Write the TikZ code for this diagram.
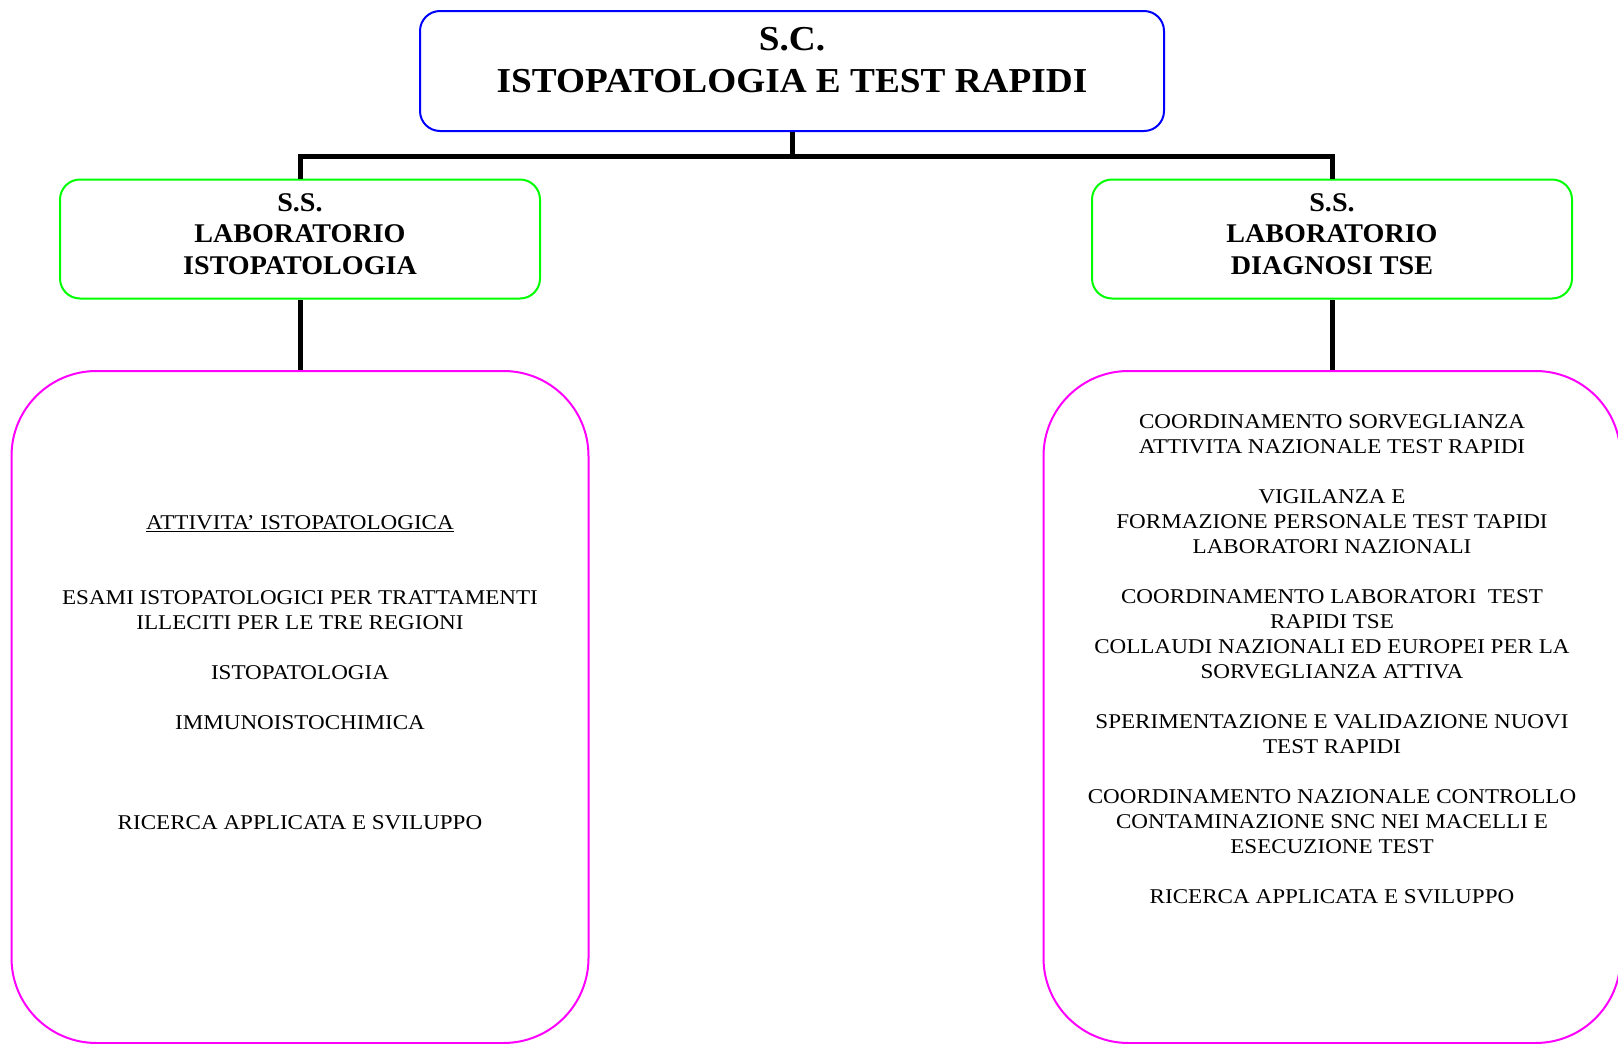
\documentclass[tikz,border=0pt]{standalone}
\usepackage{fontspec}
\setmainfont{Liberation Serif}
\newfontfamily\titlefont[FakeStretch=1.065]{Liberation Serif}
\newfontfamily\ssfont[FakeStretch=1.04]{Liberation Serif}
\newfontfamily\actfont[FakeStretch=1.10]{Liberation Serif}
\usetikzlibrary{calc}
\definecolor{scblue}{RGB}{0,0,255}
\definecolor{ssgreen}{RGB}{0,255,0}
\definecolor{actmagenta}{RGB}{255,0,255}

\begin{document}
\begin{tikzpicture}[x=1pt, y=-1pt, line cap=round, line join=round,
	scbox/.style={draw=scblue, line width=2pt, rounded corners=20pt, inner sep=0pt,
		minimum width=744pt, minimum height=120pt},
	ssbox/.style={draw=ssgreen, line width=2pt, rounded corners=20pt, inner sep=0pt,
		minimum width=480pt, minimum height=119pt},
	actbox/.style={draw=actmagenta, line width=2pt, rounded corners=85pt, inner sep=0pt,
		minimum width=577pt, minimum height=672pt},
	sctext/.style={align=center, inner sep=0pt, anchor=north,
		font=\titlefont\bfseries\fontsize{35}{42}\selectfont},
	sstext/.style={align=center, inner sep=0pt, anchor=north,
		font=\ssfont\bfseries\fontsize{27}{31.7}\selectfont},
	acttext/.style={align=center, inner sep=0pt, anchor=north,
		font=\actfont\fontsize{21}{25}\selectfont},
	conn/.style={line width=5pt, line cap=butt, line join=miter}]
		
		\useasboundingbox (0,0) rectangle (1618,1044);
		
		%========================
		% Top: S.C.
		%========================
		\node[scbox] (sc) at (792,71) {};
		\node[sctext] (sclabel) at (792,27) {S.C.\\ISTOPATOLOGIA E TEST RAPIDI};
		
		%========================
		% Middle: the two S.S.
		%========================
		\node[ssbox] (ssl) at (300,239) {};
		\node[sstext] (ssllabel) at (300,193) {S.S.\\LABORATORIO\\ISTOPATOLOGIA};
		
		\node[ssbox] (ssr) at (1332,239) {};
		\node[sstext] (ssrlabel) at (1332,193) {S.S.\\LABORATORIO\\DIAGNOSI TSE};
		
		%========================
		% Bottom: activities
		%========================
		\node[actbox] (actl) at (300,707) {};
		\node[acttext] (actllabel) at (300,515) {\underline{ATTIVITA’ ISTOPATOLOGICA}\\[50pt]
			ESAMI ISTOPATOLOGICI PER TRATTAMENTI\\
			ILLECITI PER LE TRE REGIONI\\[25pt]
			ISTOPATOLOGIA\\[25pt]
			IMMUNOISTOCHIMICA\\[75pt]
			RICERCA APPLICATA E SVILUPPO};
		
		\node[actbox] (actr) at (1332,707) {};
		\node[acttext] (actrlabel) at (1332,414) {COORDINAMENTO SORVEGLIANZA\\
			ATTIVITA NAZIONALE TEST RAPIDI\\[25pt]
			VIGILANZA E\\
			FORMAZIONE PERSONALE TEST TAPIDI\\
			LABORATORI NAZIONALI\\[25pt]
			COORDINAMENTO LABORATORI~ TEST\\
			RAPIDI TSE\\
			COLLAUDI NAZIONALI ED EUROPEI PER LA\\
			SORVEGLIANZA ATTIVA\\[25pt]
			SPERIMENTAZIONE E VALIDAZIONE NUOVI\\
			TEST RAPIDI\\[25pt]
			COORDINAMENTO NAZIONALE CONTROLLO\\
			CONTAMINAZIONE SNC NEI MACELLI E\\
			ESECUZIONE TEST\\[25pt]
			RICERCA APPLICATA E SVILUPPO};
		
		% connectors
		\coordinate (fork) at ($(sc.south)+(0,24)$);
		\draw[conn] (sc.south) -- (fork);
		\draw[conn] (ssl.north) |- (fork) -| (ssr.north);
		\draw[conn] (ssl.south) -- (actl.north);
		\draw[conn] (ssr.south) -- (actr.north);
		
	\end{tikzpicture}
\end{document}
